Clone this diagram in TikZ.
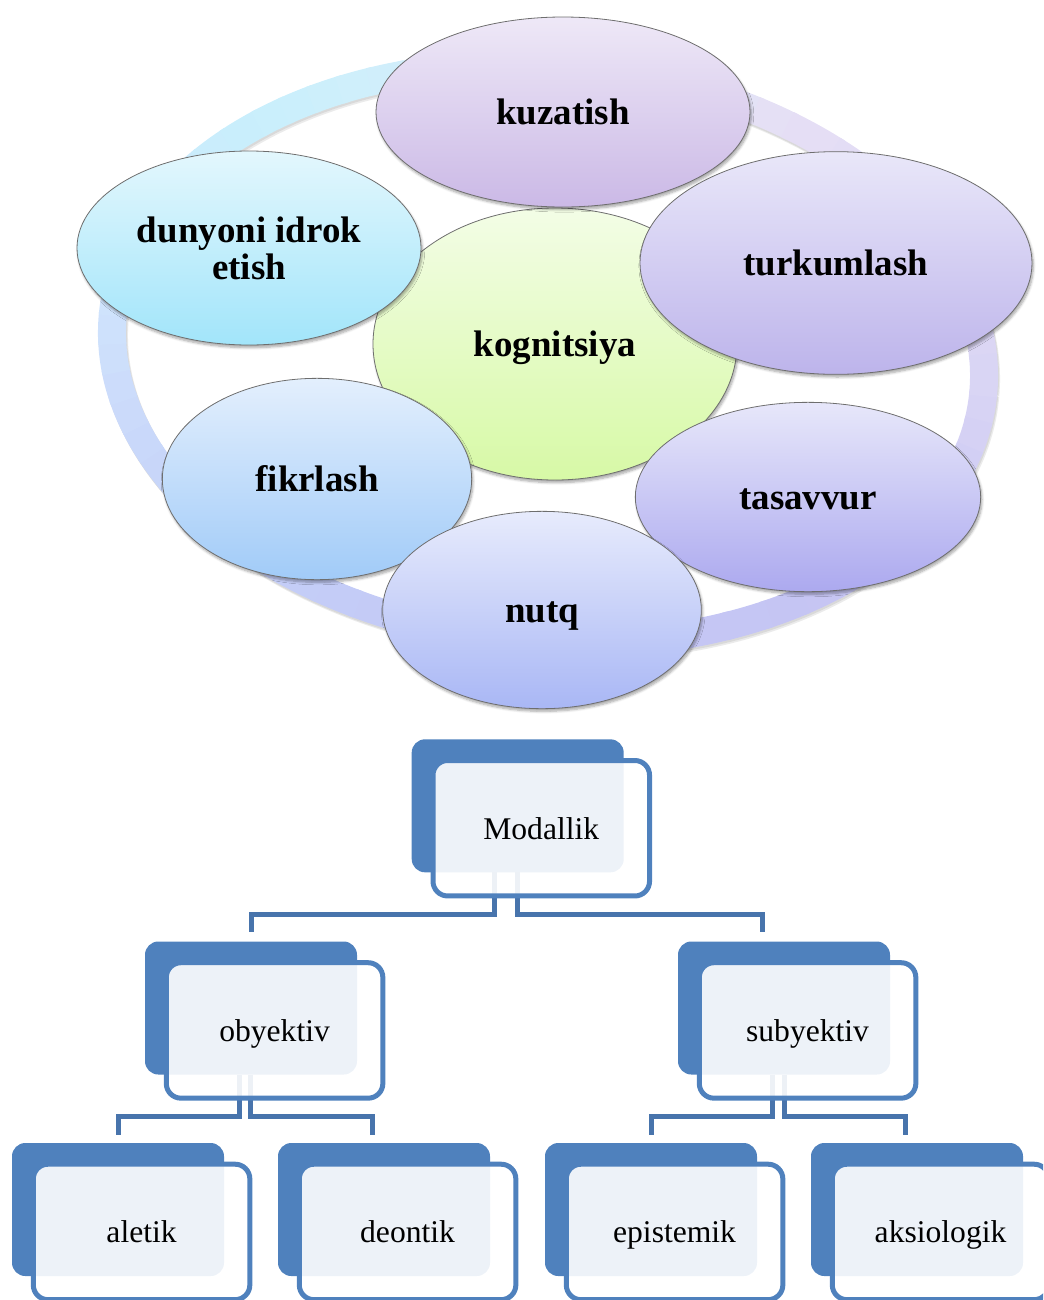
\documentclass[tikz,border=0pt]{standalone}
\usepackage{fontspec}
\setmainfont{Liberation Serif}
\usetikzlibrary{shapes.geometric,shadows.blur,calc}

% bubble fills (top / bottom of each vertical gradient)
\definecolor{kuzT}{HTML}{EEE8F7}\definecolor{kuzB}{HTML}{CBB9E6}
\definecolor{dunT}{HTML}{E3F7FD}\definecolor{dunB}{HTML}{A2E5FA}
\definecolor{kogT}{HTML}{F3FDE6}\definecolor{kogB}{HTML}{D7F9A6}
\definecolor{turT}{HTML}{E9E7F9}\definecolor{turB}{HTML}{BDB4EB}
\definecolor{tasT}{HTML}{E7E7FA}\definecolor{tasB}{HTML}{ACA9EF}
\definecolor{fikT}{HTML}{E3EFFD}\definecolor{fikB}{HTML}{A1CBF8}
\definecolor{nutT}{HTML}{E7EBFC}\definecolor{nutB}{HTML}{A9B7F5}
\definecolor{bubline}{HTML}{6E6E6E}
% ring colours going round the cycle
\definecolor{rA}{HTML}{D8D4F4}
\definecolor{rB}{HTML}{C6C5F3}
\definecolor{rC}{HTML}{C3C7F5}
\definecolor{rD}{HTML}{C5D0F8}
\definecolor{rE}{HTML}{CFE2FC}
\definecolor{rF}{HTML}{C9EFFC}
\definecolor{rG}{HTML}{D6EEFA}
\definecolor{rH}{HTML}{E6DFF5}
% hierarchy colours
\definecolor{boxblue}{HTML}{4F81BD}
\definecolor{connblue}{HTML}{4874AC}

\tikzset{
  bubble/.style={ellipse, draw=bubline, line width=0.6pt, inner sep=0pt,
    align=center, font=\fontsize{27.7pt}{27.7pt}\selectfont\bfseries,
    blur shadow={shadow xshift=1pt, shadow yshift=-2pt,
                 shadow blur steps=6, shadow opacity=35}},
  oneline/.style={text height=19pt, text depth=0pt},
  backbox/.style={rectangle, anchor=north west, fill=boxblue, draw=none,
    rounded corners=10pt, minimum width=159pt, minimum height=99.75pt,
    inner sep=0pt, outer sep=0pt},
  frontbox/.style={rectangle, anchor=north west, fill=white, fill opacity=0.9,
    text opacity=1, draw=boxblue, draw opacity=1, line width=3.75pt,
    rounded corners=11pt, minimum width=162.4pt, minimum height=101.6pt,
    inner sep=0pt, outer sep=0pt, text height=16.2pt, text depth=0pt,
    font=\fontsize{23.7pt}{28pt}\selectfont},
  conn/.style={draw=connblue, line width=3.75pt, line cap=butt, line join=miter},
}

% arc piece of the tilted ring, parameter from #1 to #2 (degrees), #3 samples
\newcommand\ringpiece[4]{%
  \draw[line width=21pt, #4] plot[domain=#1:#2, samples=#3, variable=\t, smooth]
    ({548+437*cos(\t)*cos(5)-288*sin(\t)*sin(5)},
     {354+437*cos(\t)*sin(5)+288*sin(\t)*cos(5)});}

\begin{document}
\begin{tikzpicture}[x=0.75pt, y=-0.75pt]
\useasboundingbox (0,0) rectangle (1043,1300);
\clip (0,0) rectangle (1043,1300);

% ---------- cycle ring with its soft shadow ----------
\begin{scope}[shift={(2,3.5)}]
  \ringpiece{0}{360}{121}{draw=black, draw opacity=0.08}
\end{scope}
\begin{scope}[shift={(1,2)}]
  \ringpiece{0}{360}{121}{draw=black, draw opacity=0.08}
\end{scope}
\foreach \ta/\tb/\ca/\cb in {0/45/rA/rB, 45/90/rB/rC, 90/135/rC/rD,
    135/180/rD/rE, 180/225/rE/rF, 225/260/rF/rG, 260/300/rG/rH, 300/360/rH/rA}{
  \foreach \k in {0,...,7}{
    \pgfmathsetmacro\s{\ta+(\tb-\ta)*\k/8}
    \pgfmathsetmacro\e{\ta+(\tb-\ta)*(\k+1)/8+0.8}
    \pgfmathtruncatemacro\p{100-100*(\k+0.5)/8}
    \ringpiece{\s}{\e}{5}{draw=\ca!\p!\cb}
  }
}

% ---------- bubbles ----------
\node[bubble, oneline, minimum width=273pt, minimum height=204pt,
      top color=kogT, bottom color=kogB] (kog) at (555,344) {kognitsiya};
\node[bubble, oneline, minimum width=280.5pt, minimum height=142.5pt,
      top color=kuzT, bottom color=kuzB] (kuz) at (563,112) {kuzatish};
\node[bubble, minimum width=258pt, minimum height=145.5pt,
      top color=dunT, bottom color=dunB] (dun) at (249,248) {dunyoni idrok\\etish};
\node[bubble, oneline, minimum width=294pt, minimum height=167pt,
      top color=turT, bottom color=turB] (tur) at (836,263) {turkumlash};
\node[bubble, oneline, minimum width=259pt, minimum height=142pt,
      top color=tasT, bottom color=tasB] (tas) at (808,497) {tasavvur};
\node[bubble, oneline, minimum width=232pt, minimum height=151pt,
      top color=fikT, bottom color=fikB] (fik) at (317,479) {fikrlash};
\node[bubble, oneline, minimum width=239pt, minimum height=148pt,
      top color=nutT, bottom color=nutB] (nut) at (542,610) {nutq};

% ---------- hierarchy: back plates ----------
\node[backbox] (mB) at (411.7,739.3) {};
\node[backbox] (oB) at (145,941.5) {};
\node[backbox] (sB) at (678,941.5) {};
\node[backbox] (aB) at (12,1143) {};
\node[backbox] (dB) at (278,1143) {};
\node[backbox] (eB) at (545,1143) {};
\node[backbox] (kB) at (811,1143) {};

% ---------- elbow connectors ----------
\draw[conn] ($(mB.south)+(-23,0)$) -- ++(0,42) -| ($(oB.north)+(0,-9.5)$);
\draw[conn] ($(mB.south)+(0,0)$)   -- ++(0,42) -| ($(sB.north)+(-22,-9.5)$);
\draw[conn] ($(oB.south)+(-11.5,0)$) -- ++(0,42) -| ($(aB.north)+(0,-8)$);
\draw[conn] ($(oB.south)+(-0.5,0)$)  -- ++(0,42) -| ($(dB.north)+(-11.5,-8)$);
\draw[conn] ($(sB.south)+(-11.5,0)$) -- ++(0,42) -| ($(eB.north)+(0,-8)$);
\draw[conn] ($(sB.south)+(0.5,0)$)   -- ++(0,42) -| ($(kB.north)+(-11.5,-8)$);

% ---------- hierarchy: front cards ----------
\node[frontbox] (mF) at ($(mB.north west)+(21.3,21.2)$) {Modallik};
\node[frontbox] (oF) at ($(oB.north west)+(21.3,21.2)$) {obyektiv};
\node[frontbox] (sF) at ($(sB.north west)+(21.3,21.2)$) {subyektiv};
\node[frontbox] (aF) at ($(aB.north west)+(21.3,21.2)$) {aletik};
\node[frontbox] (dF) at ($(dB.north west)+(21.3,21.2)$) {deontik};
\node[frontbox] (eF) at ($(eB.north west)+(21.3,21.2)$) {epistemik};
\node[frontbox] (kF) at ($(kB.north west)+(21.3,21.2)$) {aksiologik};
\end{tikzpicture}
\end{document}
